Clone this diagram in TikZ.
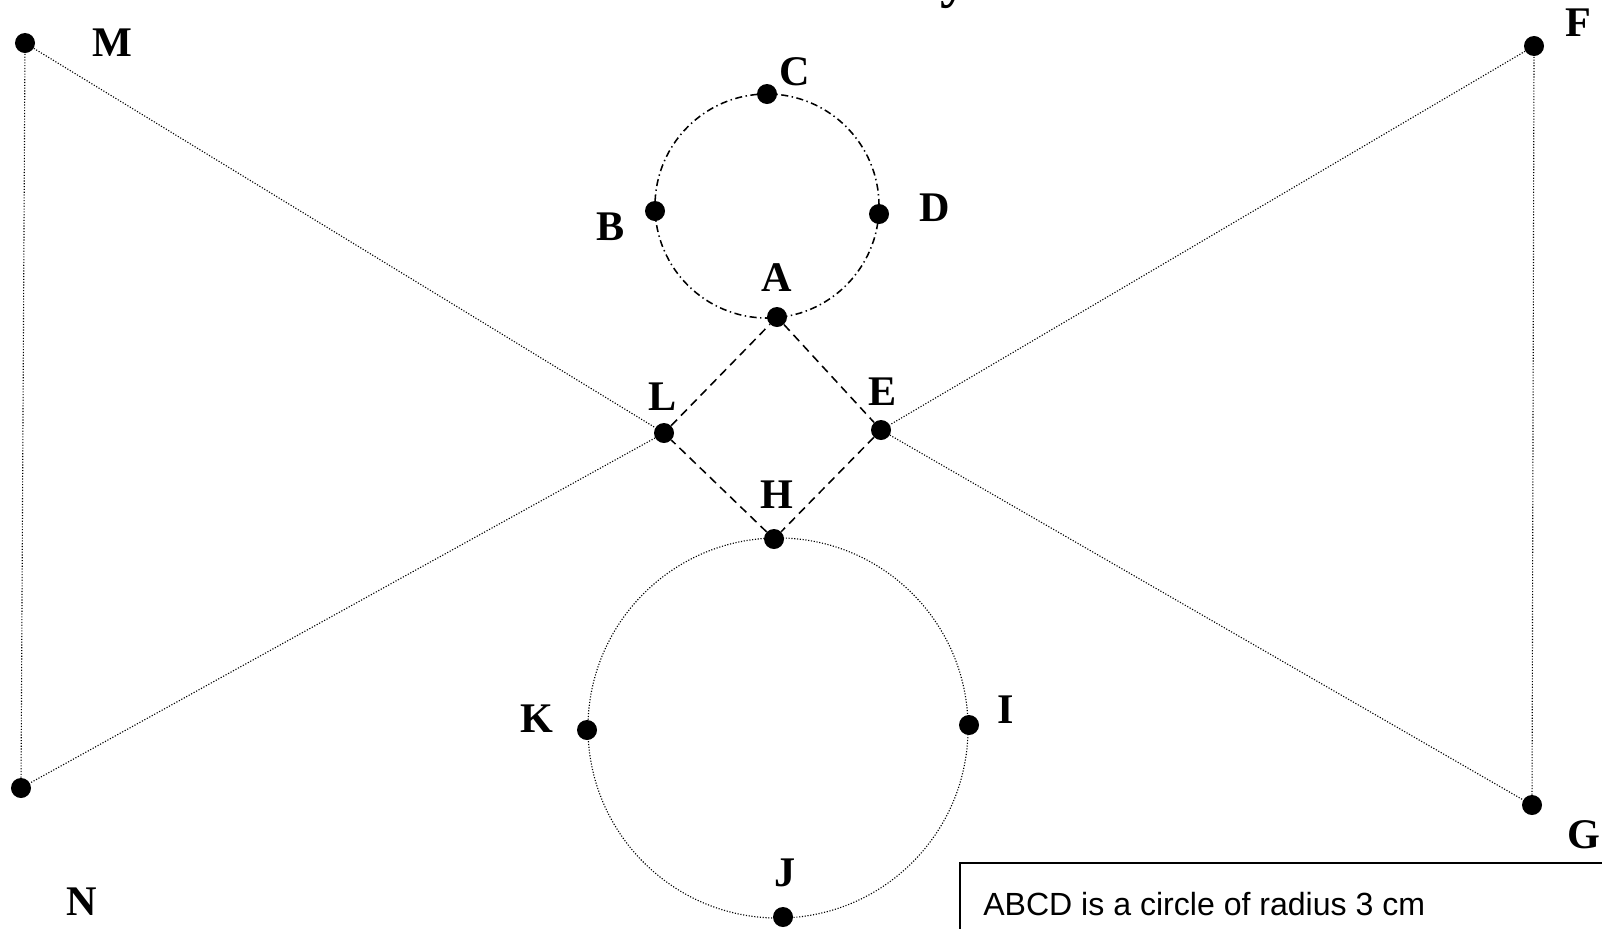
\documentclass[tikz,border=0pt]{standalone}
\usepackage{fontspec}
\setmainfont{Liberation Serif}
\newfontfamily\boxfont{Liberation Sans}
\usetikzlibrary{positioning}

\begin{document}
\begin{tikzpicture}[
    x=0.025cm, y=-0.025cm,
    dot/.style={circle, fill=black, inner sep=0pt, minimum size=0.5cm},
    lbl/.style={font=\fontsize{30}{36}\selectfont\bfseries, inner sep=0pt},
    thinline/.style={line width=0.8pt, dash pattern=on 0.8pt off 1.2pt},
    squareline/.style={line width=1.1pt, dash pattern=on 6pt off 4pt},
    ringline/.style={line width=1.1pt, dash pattern=on 5pt off 2.5pt on 1pt off 2.5pt}
]
    \useasboundingbox (0,0) rectangle (1602,928);

    % Title (cut off at the top)
    \node[font=\fontsize{40}{48}\selectfont\bfseries, anchor=base] (title) at (955,-4) {y};

    % Circle ABCD
    \draw[ringline] (767,206) circle [radius=2.8cm];
    \node[dot] (A) at (777,317) {};
    \node[dot] (B) at (655,211) {};
    \node[dot] (C) at (767,94) {};
    \node[dot] (D) at (879,214) {};

    % Circle HIJK
    \draw[thinline] (778,728) circle [radius=4.75cm];
    \node[dot] (H) at (774,539) {};
    \node[dot] (I) at (969,725) {};
    \node[dot] (J) at (783,917) {};
    \node[dot] (K) at (587,730) {};

    % Square ALHE
    \node[dot] (L) at (664,433) {};
    \node[dot] (E) at (881,430) {};
    \draw[squareline] (A) -- (E);
    \draw[squareline] (E) -- (H);
    \draw[squareline] (H) -- (L);
    \draw[squareline] (L) -- (A);

    % Outer triangles
    \node[dot] (M) at (25,43) {};
    \node[dot] (N) at (21,788) {};
    \node[dot] (F) at (1534,46) {};
    \node[dot] (G) at (1532,805) {};
    \draw[thinline] (M) -- (L);
    \draw[thinline] (L) -- (N);
    \draw[thinline] (N) -- (M);
    \draw[thinline] (F) -- (E);
    \draw[thinline] (E) -- (G);
    \draw[thinline] (G) -- (F);

    % Labels
    \node[lbl] (lblA) at (777,278) {A};
    \node[lbl] (lblB) at (611,227) {B};
    \node[lbl] (lblC) at (795,72) {C};
    \node[lbl] (lblD) at (935,208) {D};
    \node[lbl] (lblE) at (883,392) {E};
    \node[lbl] (lblF) at (1578,23) {F};
    \node[lbl] (lblG) at (1584,835) {G};
    \node[lbl] (lblH) at (777,495) {H};
    \node[lbl] (lblI) at (1006,710) {I};
    \node[lbl] (lblJ) at (785,873) {J};
    \node[lbl] (lblK) at (537,719) {K};
    \node[lbl] (lblL) at (663,397) {L};
    \node[lbl] (lblM) at (112,43) {M};
    \node[lbl] (lblN) at (82,902) {N};

    % Note box
    \draw[line width=1pt] (1620,863) -- (960,863) -- (960,945);
    \node[font=\boxfont\fontsize{22.8}{27}\selectfont, anchor=base west, inner sep=0pt] (note) at (983,915) {ABCD is a circle of radius 3 cm};
\end{tikzpicture}
\end{document}
